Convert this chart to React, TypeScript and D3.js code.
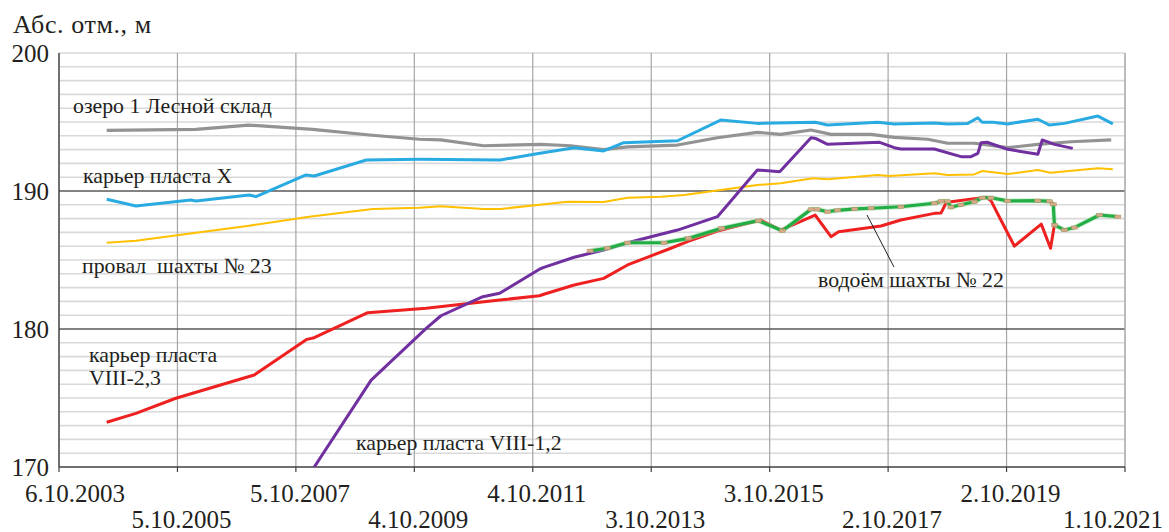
import React from "react";
import * as d3 from "d3";

const W = 1169, H = 532;
const M = { left: 59, right: 1125, top: 53, bottom: 467 };

const xStart = "2003-10-06";
const tickStepDays = 730;
const tickCount = 9;
const yTicks = [200, 190, 180, 170];

const grayDates = ["2004-07-26","2006-01-27","2006-12-17","2008-01-16","2009-01-01","2009-11-05","2010-03-15","2010-12-04","2011-11-20","2012-05-25","2012-12-14","2013-05-10","2014-03-14","2014-11-15","2015-07-19","2015-12-10","2016-06-14","2016-10-15","2017-06-19","2017-11-09","2018-06-03","2018-10-04","2019-03-17","2019-10-09","2020-04-12","2020-11-03","2021-07-08"];
const grayVals = [194.4,194.47,194.78,194.47,194.06,193.75,193.7,193.28,193.38,193.28,193.0,193.2,193.33,193.86,194.25,194.1,194.42,194.1,194.1,193.89,193.75,193.46,193.46,193.14,193.38,193.57,193.7];

const blueDates = ["2004-07-26","2005-01-22","2005-12-27","2006-01-27","2006-12-21","2007-02-01","2007-12-06","2008-01-26","2008-12-12","2009-11-05","2011-03-18","2011-10-11","2012-06-15","2012-12-14","2013-04-17","2014-03-14","2014-12-05","2015-07-19","2016-07-09","2016-09-24","2017-07-30","2017-11-09","2018-07-14","2018-10-04","2019-02-05","2019-04-08","2019-05-05","2019-07-10","2019-10-09","2020-04-12","2020-06-23","2020-09-23","2021-04-17","2021-07-18"];
const blueVals = [189.4,188.91,189.35,189.28,189.71,189.59,191.16,191.09,192.25,192.3,192.25,192.66,193.14,192.9,193.5,193.64,195.14,194.9,194.98,194.78,194.98,194.86,194.92,194.86,194.9,195.31,194.98,194.98,194.86,195.2,194.78,194.9,195.43,194.86];

const yellowDates = ["2004-07-26","2005-01-22","2006-01-27","2006-12-21","2007-12-26","2009-01-21","2009-11-05","2010-03-15","2010-12-04","2011-03-18","2012-05-05","2012-12-14","2013-05-10","2013-12-01","2014-04-23","2015-07-19","2015-12-10","2016-06-26","2016-09-24","2017-07-30","2017-10-09","2018-07-14","2018-10-04","2019-03-17","2019-05-05","2019-10-09","2020-04-12","2020-06-29","2021-04-17","2021-07-18"];
const yellowVals = [186.25,186.4,186.98,187.49,188.14,188.7,188.79,188.89,188.7,188.7,189.22,189.2,189.51,189.59,189.71,190.43,190.56,190.92,190.85,191.16,191.09,191.28,191.16,191.2,191.45,191.23,191.52,191.33,191.64,191.57];

const redDates = ["2004-07-26","2005-01-22","2005-09-25","2007-01-21","2007-12-12","2008-01-26","2008-12-21","2009-12-16","2011-03-14","2011-11-14","2011-12-11","2012-06-15","2012-12-14","2013-05-10","2014-02-01","2014-05-14","2014-11-15","2015-08-09","2015-12-10","2016-07-09","2016-10-15","2016-12-01","2017-08-19","2017-12-20","2018-07-14","2018-08-24","2018-09-23","2018-10-24","2019-05-29","2019-06-28","2019-08-28","2019-11-19","2020-05-03","2020-06-29","2020-07-23"];
const redVals = [173.24,173.89,174.98,176.67,179.25,179.37,181.18,181.5,182.1,182.41,182.52,183.19,183.67,184.64,185.85,186.33,187.1,187.9,187.17,188.26,186.69,187.05,187.46,187.9,188.38,188.4,189.11,189.22,189.54,189.3,187.9,186.01,187.6,185.85,187.54];

const purpleDates = ["2007-10-07","2009-01-11","2009-12-16","2010-03-17","2010-11-30","2011-03-14","2011-11-14","2011-12-11","2012-06-15","2012-12-14","2013-05-10","2014-03-14","2014-11-15","2015-07-19","2015-12-04","2016-06-14","2016-07-15","2016-09-24","2017-08-11","2017-11-09","2017-12-20","2018-07-14","2018-12-25","2019-02-25","2019-04-08","2019-04-28","2019-06-04","2019-10-09","2020-04-12","2020-05-09","2020-07-23","2020-11-13"];
const purpleVals = [168.0,176.3,180.05,180.96,182.34,182.59,184.33,184.47,185.2,185.72,186.25,187.17,188.14,191.52,191.4,193.86,193.8,193.38,193.53,193.14,193.04,193.04,192.49,192.49,192.73,193.5,193.53,193.02,192.66,193.7,193.38,193.09];

const greenDates = ["2012-09-21","2013-01-06","2013-05-10","2013-12-21","2014-05-20","2014-12-11","2015-07-25","2015-12-20","2016-06-14","2016-07-21","2016-09-24","2016-11-25","2017-03-10","2017-06-19","2017-12-20","2018-07-14","2018-08-24","2018-10-04","2018-10-24","2018-12-25","2019-03-17","2019-05-05","2019-06-28","2019-10-09","2020-04-12","2020-06-23","2020-07-16","2020-07-23","2020-09-23","2020-11-23","2021-04-27","2021-08-18"];
const greenVals = [185.67,185.85,186.25,186.25,186.57,187.3,187.85,187.12,188.67,188.67,188.5,188.6,188.7,188.75,188.86,189.11,189.25,189.25,188.82,189.0,189.22,189.51,189.51,189.28,189.3,189.25,189.04,187.54,187.17,187.35,188.26,188.14];

const seriesLabels = [
  { text: "озеро 1 Лесной склад", x: 73, y: 113 },
  { text: "карьер пласта X", x: 83, y: 183 },
  { text: "провал  шахты № 23", x: 82, y: 273 },
  { text: "карьер пласта", x: 89, y: 362 },
  { text: "VIII-2,3", x: 89, y: 385 },
  { text: "карьер пласта VIII-1,2", x: 356, y: 450 },
  { text: "водоём шахты № 22", x: 818, y: 287 },
];

const parse = d3.timeParse("%Y-%m-%d");
const fmt = d3.timeFormat("%-d.%m.%Y");

function zipSeries(dates: string[], vals: number[]) {
  return dates.map((d, i) => ({ date: parse(d) as Date, v: vals[i] }));
}

export default function App() {
  const start = parse(xStart) as Date;
  const ticks = d3.range(tickCount + 1).map((i) => d3.timeDay.offset(start, i * tickStepDays));
  const x = d3.scaleTime().domain([ticks[0], ticks[ticks.length - 1]]).range([M.left, M.right]);
  const y = d3.scaleLinear().domain([170, 200]).range([M.bottom, M.top]);
  const line = d3.line<{ date: Date; v: number }>().x((d) => x(d.date)).y((d) => y(d.v));

  const series = [
    { data: zipSeries(grayDates, grayVals), color: "#939393", w: 3.2 },
    { data: zipSeries(yellowDates, yellowVals), color: "#ffc000", w: 2 },
    { data: zipSeries(blueDates, blueVals), color: "#29abe2", w: 3 },
    { data: zipSeries(redDates, redVals), color: "#ee2020", w: 3 },
    { data: zipSeries(purpleDates, purpleVals), color: "#7030a0", w: 3 },
  ];
  const green = zipSeries(greenDates, greenVals);
  const minor = d3.range(171, 201).filter((v) => v % 10 !== 0 || v === 200);
  const font = "Liberation Serif, DejaVu Serif, Times New Roman, serif";

  return (
    <svg width={W} height={H} style={{ position: "absolute", left: 0, top: 0, background: "#fff" }}>
      <defs>
        <clipPath id="plot">
          <rect x={M.left} y={M.top} width={M.right - M.left} height={M.bottom - M.top} />
        </clipPath>
      </defs>
      <rect x={0} y={0} width={W} height={H} fill="#fff" />
      {minor.map((v) => (
        <line key={"m" + v} x1={M.left} x2={M.right} y1={y(v)} y2={y(v)} stroke="#d9d9d9" strokeWidth={1.6} />
      ))}
      {ticks.slice(1, -1).map((t, i) => (
        <line key={"v" + i} x1={x(t)} x2={x(t)} y1={M.top} y2={M.bottom} stroke="#a6a6a6" strokeWidth={1.2} />
      ))}
      {[190, 180].map((v) => (
        <line key={"M" + v} x1={M.left} x2={M.right} y1={y(v)} y2={y(v)} stroke="#595959" strokeWidth={1.3} />
      ))}
      <line x1={M.right} x2={M.right} y1={M.top} y2={M.bottom} stroke="#a6a6a6" strokeWidth={1.5} />
      <line x1={M.left} x2={M.left} y1={M.top} y2={M.bottom} stroke="#404040" strokeWidth={1.5} />
      <line x1={M.left} x2={M.right} y1={M.bottom} y2={M.bottom} stroke="#404040" strokeWidth={1.5} />
      {ticks.map((t, i) => (
        <line key={"t" + i} x1={x(t)} x2={x(t)} y1={M.bottom} y2={M.bottom + 5} stroke="#404040" strokeWidth={1.2} />
      ))}
      <g clipPath="url(#plot)">
        {series.map((s, i) => (
          <path key={i} d={line(s.data) || ""} fill="none" stroke={s.color} strokeWidth={s.w} strokeLinejoin="round" />
        ))}
        <path d={line(green) || ""} fill="none" stroke="#9be0a8" strokeWidth={5} opacity={0.5} />
        <path d={line(green) || ""} fill="none" stroke="#22ad45" strokeWidth={3.2} strokeLinejoin="round" />
        {green.map((d, i) => (
          <rect key={i} x={x(d.date) - 3} y={y(d.v) - 1.6} width={6} height={3.2} fill="#d7aa8c" stroke="#b09060" strokeWidth={0.5} />
        ))}
      </g>
      <line x1={867} y1={215} x2={894} y2={267} stroke="#231f20" strokeWidth={1} />
      {yTicks.map((v) => (
        <text key={"y" + v} x={49} y={y(v) + 8.5} textAnchor="end" fontFamily={font} fontSize={25} fill="#231f20">{v}</text>
      ))}
      {ticks.map((t, i) => {
        const first = i === 0;
        const last = i === ticks.length - 1;
        return (
          <text key={"xl" + i} x={first ? 25 : last ? W - 6 : x(t) + 4} y={i % 2 === 0 ? 502 : 528} textAnchor={first ? "start" : last ? "end" : "middle"} fontFamily={font} fontSize={25} fill="#231f20">{fmt(t)}</text>
        );
      })}
      <text x={13} y={33} fontFamily={font} fontSize={26} letterSpacing={0.6} fill="#231f20">Абс. отм., м</text>
      {seriesLabels.map((l, i) => (
        <text key={"sl" + i} x={l.x} y={l.y} fontFamily={font} fontSize={21.8} fill="#231f20" style={{ whiteSpace: "pre" }}>{l.text}</text>
      ))}
    </svg>
  );
}
